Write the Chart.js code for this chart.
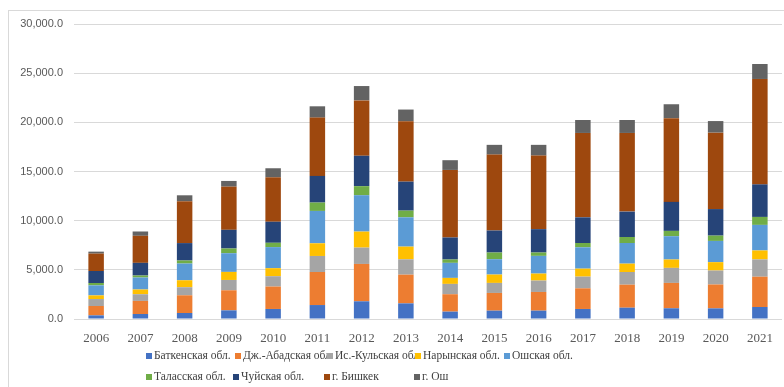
<!DOCTYPE html>
<html>
<head>
<meta charset="utf-8">
<script src="https://cdn.jsdelivr.net/npm/chart.js@4.4.1/dist/chart.umd.min.js"></script>
<style>
  body { margin: 0; background: #fff; }
  #wrap { position: relative; width: 784px; height: 387px; overflow: hidden; }
  #frame { position: absolute; left: 8px; top: 10px; width: 790px; height: 400px; border: 1px solid #d9d9d9; }
  canvas { position: absolute; left: 0; top: 0; }
</style>
</head>
<body>
<div id="wrap">
  <div id="frame"></div>
  <canvas id="chart" width="784" height="387"></canvas>
</div>
<script>
var years = ["2006", "2007", "2008", "2009", "2010", "2011", "2012", "2013",
             "2014", "2015", "2016", "2017", "2018", "2019", "2020", "2021"];

var batken    = [370, 510, 610, 880, 1020, 1420, 1800, 1590, 750, 850, 850, 1020, 1150, 1090, 1080, 1220];
var jalalabad = [950, 1330, 1800, 2040, 2280, 3360, 3800, 2920, 1770, 1800, 1900, 2100, 2340, 2580, 2430, 3080];
var issykkul  = [710, 680, 820, 1050, 1050, 1630, 1660, 1560, 1050, 1020, 1160, 1190, 1290, 1530, 1420, 1760];
var naryn     = [370, 480, 710, 820, 820, 1290, 1630, 1290, 610, 850, 710, 810, 850, 850, 850, 910];
var oshObl    = [1020, 1220, 1700, 1900, 2140, 3290, 3700, 2980, 1530, 1560, 1800, 2170, 2100, 2370, 2160, 2600];
var talas     = [240, 200, 310, 480, 440, 850, 920, 680, 340, 680, 340, 440, 610, 540, 540, 810];
var chui      = [1220, 1290, 1770, 1900, 2140, 2710, 3090, 2950, 2240, 2240, 2380, 2610, 2580, 2950, 2700, 3310];
var bishkek   = [1770, 2750, 4250, 4390, 4520, 5930, 5630, 6140, 6870, 7720, 7480, 8580, 8000, 8510, 7770, 10720];
var oshCity   = [200, 440, 610, 580, 920, 1150, 1460, 1190, 990, 990, 1090, 1320, 1320, 1420, 1180, 1520];

var yTicks = [0, 5000, 10000, 15000, 20000, 25000, 30000];

var series = [
  { label: "Баткенская обл.",   data: batken,    color: "#4472C4" },
  { label: "Дж.-Абадская обл",  data: jalalabad, color: "#ED7D31" },
  { label: "Ис.-Кульская обл.", data: issykkul,  color: "#A5A5A5" },
  { label: "Нарынская обл.",    data: naryn,     color: "#FFC000" },
  { label: "Ошская обл.",       data: oshObl,    color: "#5B9BD5" },
  { label: "Таласская обл.",    data: talas,     color: "#70AD47" },
  { label: "Чуйская обл.",      data: chui,      color: "#264478" },
  { label: "г. Бишкек",         data: bishkek,   color: "#9E480E" },
  { label: "г. Ош",             data: oshCity,   color: "#636363" }
];

// legend laid out as a two-row grid under the plot
var legendSpots = [
  [146, 356], [235, 356], [327, 356], [415, 356], [504, 356],
  [146, 377], [233, 377], [324, 377], [414, 377]
];

var gridLegend = {
  id: "gridLegend",
  afterDraw: function(chart) {
    var ctx = chart.ctx;
    ctx.save();
    ctx.font = "11.5px 'Liberation Serif'";
    ctx.textBaseline = "middle";
    ctx.textAlign = "left";
    chart.data.datasets.forEach(function(ds, i) {
      var pos = legendSpots[i];
      ctx.fillStyle = ds.backgroundColor;
      ctx.fillRect(pos[0], pos[1] - 3, 6, 6);
      ctx.fillStyle = "#404040";
      ctx.fillText(ds.label, pos[0] + 8, pos[1]);
    });
    ctx.restore();
  }
};

var datasets = series.map(function(s) {
  return {
    label: s.label,
    data: s.data,
    backgroundColor: s.color,
    borderWidth: 0,
    categoryPercentage: 1.0,
    barPercentage: 0.35
  };
});

new Chart(document.getElementById("chart"), {
  type: "bar",
  data: { labels: years, datasets: datasets },
  options: {
    responsive: false,
    animation: false,
    layout: { padding: { top: 24, right: 2, left: 0, bottom: 0 } },
    plugins: {
      legend: { display: false },
      tooltip: { enabled: false }
    },
    scales: {
      x: {
        stacked: true,
        grid: { display: false },
        border: { display: false },
        ticks: {
          color: "#595959",
          font: { family: "'Liberation Serif'", size: 13 },
          padding: 4,
          maxRotation: 0
        },
        afterFit: function(scale) { scale.height = 68; }
      },
      y: {
        stacked: true,
        min: 0,
        max: 30000,
        afterBuildTicks: function(scale) {
          scale.ticks = yTicks.map(function(v) { return { value: v }; });
        },
        grid: { color: "#d9d9d9", lineWidth: 1, drawTicks: false },
        border: { display: false },
        ticks: {
          color: "#595959",
          font: { family: "'Liberation Sans'", size: 11 },
          padding: 11,
          callback: function(v) {
            return Number(v).toLocaleString("en-US", { minimumFractionDigits: 1, maximumFractionDigits: 1 });
          }
        },
        afterFit: function(scale) { scale.width = 74; }
      }
    }
  },
  plugins: [gridLegend]
});
</script>
</body>
</html>
